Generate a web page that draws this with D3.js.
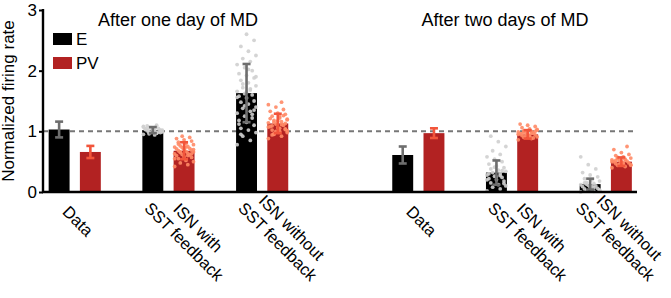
<!DOCTYPE html>
<html>
<head>
<meta charset="utf-8">
<script src="https://cdn.jsdelivr.net/npm/d3@7"></script>
<style>
  body { margin: 0; background: #fff; }
  text { font-family: "Liberation Sans", Arial, sans-serif; fill: #000; }
  .axis path, .axis line { stroke: #000; }
</style>
</head>
<body>
<svg id="chart" width="671" height="298"></svg>
<script>
// ---- data ----
var days = ["After one day of MD", "After two days of MD"];
var categories = ["Data", "ISN with\nSST feedback", "ISN without\nSST feedback"];
var populations = ["E", "PV"];

// bar heights (mean) per day, per category: [E, PV]
var meanDay1 = [[1.03, 0.66], [1.02, 0.68], [1.63, 1.13]];
var meanDay2 = [[0.61, 0.97], [0.32, 0.95], [0.13, 0.50]];
// error bar half-lengths
var errDay1 = [[0.13, 0.10], [0.05, 0.14], [0.48, 0.16]];
var errDay2 = [[0.14, 0.08], [0.20, 0.07], [0.09, 0.07]];

// individual model points
var d1WithE = [0.95,0.97,0.98,0.99,1.0,1.01,1.02,1.03,1.04,1.05,1.06,1.08,1.1,0.96,1.0,1.02,1.04,0.98,1.01,1.03,0.99,1.05,1.07,0.97,1.0,1.02,0.94,1.09,1.01,1.03];
var d1WithPV = [0.42,0.45,0.48,0.5,0.52,0.55,0.57,0.58,0.6,0.61,0.62,0.63,0.64,0.65,0.66,0.67,0.68,0.69,0.7,0.71,0.72,0.73,0.74,0.75,0.76,0.78,0.8,0.82,0.84,0.86,0.88,0.9,0.92,0.55,0.6,0.66,0.7,0.74,0.79,0.63];
var d1WoE = [0.78,0.85,0.92,0.98,1.02,1.05,1.1,1.15,1.18,1.22,1.25,1.3,1.33,1.38,1.4,1.45,1.48,1.5,1.55,1.58,1.6,1.62,1.66,1.7,1.72,1.75,1.8,1.84,1.88,1.92,1.95,2.0,2.05,2.1,2.15,2.2,2.25,2.32,2.4,2.5,2.6,1.12,1.28,1.42,1.56,1.68,1.78,1.9,2.02,0.95,1.35,1.65];
var d1WoPV = [0.88,0.92,0.95,0.98,1.0,1.02,1.04,1.06,1.08,1.1,1.12,1.14,1.16,1.18,1.2,1.22,1.25,1.28,1.3,1.33,1.36,1.4,1.44,1.48,0.96,1.01,1.05,1.09,1.13,1.17,1.21,1.26,1.0,1.07,1.11,1.15,1.19,1.24,0.94,1.03];
var d2WithE = [0.02,0.05,0.08,0.1,0.12,0.15,0.18,0.2,0.22,0.24,0.26,0.28,0.3,0.32,0.34,0.36,0.38,0.4,0.43,0.46,0.5,0.54,0.58,0.62,0.68,0.75,0.83,0.92,0.14,0.25,0.3,0.35,0.41,0.2,0.27];
var d2WithPV = [0.86,0.88,0.9,0.91,0.92,0.93,0.94,0.95,0.96,0.97,0.98,0.99,1.0,1.01,1.02,1.04,1.06,1.08,1.1,1.12,0.89,0.93,0.95,0.97,0.99,1.03,0.92,0.96,1.0,0.94];
var d2WoE = [0.0,0.01,0.02,0.03,0.04,0.05,0.06,0.08,0.09,0.1,0.11,0.12,0.14,0.16,0.18,0.2,0.22,0.25,0.28,0.32,0.38,0.45,0.58,0.07,0.13,0.03,0.1,0.15];
var d2WoPV = [0.4,0.42,0.44,0.45,0.46,0.47,0.48,0.49,0.5,0.51,0.52,0.53,0.54,0.55,0.56,0.58,0.6,0.62,0.65,0.7,0.75,0.46,0.5,0.53,0.57,0.44,0.48,0.52];

var pointsDay1 = [null, [d1WithE, d1WithPV], [d1WoE, d1WoPV]];
var pointsDay2 = [null, [d2WithE, d2WithPV], [d2WoE, d2WoPV]];

var yTicks = [0, 1, 2, 3];

// ---- layout ----
var svg = d3.select("#chart");
var plotLeft = 43, plotRight = 637, plotTop = 10, plotBottom = 192;

var barColor = {E: "#000000", PV: "#b22222"};
var dotColor = {E: "#cfcfcf", PV: "#ff8a66"};
var errColor = {E: "#6e6e6e", PV: "#f2553b"};

// one slot per bar, a wider gap between the two days
function slot(day, cat, pop) { return day * 11 + cat * 3 + pop; }

var x = d3.scaleLinear().domain([-0.5, 18.5]).range([plotLeft + 0.5, plotRight]);
var y = d3.scaleLinear().domain([0, 3]).range([plotBottom, plotTop]);
var barW = (x(1) - x(0)) * 0.67;

// reference line at 1
svg.append("line")
  .attr("x1", plotLeft).attr("x2", plotRight)
  .attr("y1", y(1)).attr("y2", y(1))
  .attr("stroke", "#777").attr("stroke-width", 2)
  .attr("stroke-dasharray", "5,4");

var bars = [];
[meanDay1, meanDay2].forEach(function(means, day) {
  var errs = day == 0 ? errDay1 : errDay2;
  var pts = day == 0 ? pointsDay1 : pointsDay2;
  means.forEach(function(pair, cat) {
    pair.forEach(function(v, p) {
      bars.push({day: day, cat: cat, pop: populations[p], value: v,
                 err: errs[cat][p], points: pts[cat] ? pts[cat][p] : [],
                 cx: x(slot(day, cat, p))});
    });
  });
});

// bars
svg.selectAll(".bar").data(bars).enter().append("rect")
  .attr("class", "bar")
  .attr("x", function(d) { return d.cx - barW / 2; })
  .attr("width", barW)
  .attr("y", function(d) { return y(d.value); })
  .attr("height", function(d) { return y(0) - y(d.value); })
  .attr("fill", function(d) { return barColor[d.pop]; });

// jittered points
bars.forEach(function(b) {
  svg.append("g").selectAll("circle").data(b.points).enter().append("circle")
    .attr("cx", function(v, i) { return b.cx + (((i * 7) % 11) / 10 - 0.5) * barW * 0.9; })
    .attr("cy", function(v) { return y(v); })
    .attr("r", 1.9)
    .attr("fill", dotColor[b.pop])
    .attr("opacity", 0.9);
});

// error bars
bars.forEach(function(b) {
  var g = svg.append("g").attr("stroke", errColor[b.pop]).attr("stroke-width", 2.6);
  var lo = Math.max(0, b.value - b.err), hi = b.value + b.err;
  g.append("line").attr("x1", b.cx).attr("x2", b.cx).attr("y1", y(lo)).attr("y2", y(hi));
  g.append("line").attr("x1", b.cx - 4).attr("x2", b.cx + 4).attr("y1", y(lo)).attr("y2", y(lo));
  g.append("line").attr("x1", b.cx - 4).attr("x2", b.cx + 4).attr("y1", y(hi)).attr("y2", y(hi));
});

// axes
var yAxis = svg.append("g")
  .attr("class", "axis")
  .attr("transform", "translate(" + plotLeft + ",0)")
  .call(d3.axisLeft(y).tickValues(yTicks).tickFormat(d3.format("d")).tickSize(4).tickPadding(2));
yAxis.select(".domain").attr("stroke-width", 2.4).attr("d", "M0," + (plotBottom + 1) + "V" + (plotTop - 1));
yAxis.selectAll(".tick line").attr("stroke-width", 2);
yAxis.selectAll(".tick text").style("font-size", "17px");

svg.append("line")
  .attr("x1", plotLeft - 1).attr("x2", plotRight)
  .attr("y1", plotBottom).attr("y2", plotBottom)
  .attr("stroke", "#000").attr("stroke-width", 2.4);

svg.append("text")
  .attr("transform", "translate(14," + ((plotTop + plotBottom) / 2) + ") rotate(-90)")
  .attr("text-anchor", "middle")
  .style("font-size", "17px")
  .text("Normalized firing rate");

// day titles
var titleX = [178, 505];
days.forEach(function(t, i) {
  svg.append("text")
    .attr("x", titleX[i]).attr("y", 26)
    .attr("text-anchor", "middle")
    .style("font-size", "18px")
    .text(t);
});

// legend
populations.forEach(function(p, i) {
  svg.append("rect").attr("x", 53).attr("y", 33 + i * 24).attr("width", 19).attr("height", 12)
    .attr("fill", barColor[p]);
  svg.append("text").attr("x", 76).attr("y", 45 + i * 24)
    .style("font-size", "17px").text(p);
});

// rotated category labels (lines centred on each other, block starts under the pair)
var labelNudge = [[0, 0, 0], [0, 0, -6]];
[0, 1].forEach(function(day) {
  categories.forEach(function(c, cat) {
    var mid = (x(slot(day, cat, 0)) + x(slot(day, cat, 1))) / 2 + labelNudge[day][cat];
    var lines = c.split("\n");
    var g = svg.append("g")
      .attr("transform", "translate(" + (mid - 9) + ",203) rotate(45)");
    var texts = g.selectAll("text").data(lines).enter().append("text")
      .style("font-size", "16.5px")
      .attr("text-anchor", "middle")
      .attr("y", function(d, i) {
        return lines.length == 1 ? "0.6em" : (i == 0 ? "-0.25em" : "0.95em");
      })
      .text(function(d) { return d; });
    var maxLen = d3.max(texts.nodes(), function(n) { return n.getComputedTextLength(); });
    texts.attr("x", maxLen / 2 + (lines.length == 1 ? 4 : -7));
  });
});
</script>
</body>
</html>
